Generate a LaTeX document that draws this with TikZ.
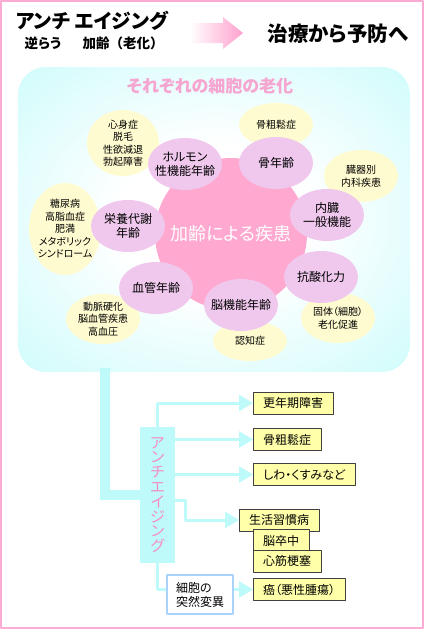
\documentclass[tikz,border=0pt]{standalone}
\usepackage{fontspec}
\setmainfont{Noto Sans CJK JP}[RawFeature=+palt]
\newfontfamily\monocjk{Noto Sans CJK JP}
\usetikzlibrary{shapes.geometric,arrows.meta,positioning}
\definecolor{framepink}{RGB}{250,172,212}
\definecolor{arrowpink}{RGB}{255,160,205}
\definecolor{boxcyan}{RGB}{190,250,250}
\definecolor{titlepink}{RGB}{245,165,208}
\definecolor{diseasepink}{RGB}{255,168,208}
\definecolor{agelav}{RGB}{240,200,238}
\definecolor{causeyellow}{RGB}{255,251,208}
\definecolor{illyellow}{RGB}{255,255,170}
\definecolor{aapink}{RGB}{245,140,200}
\definecolor{mutblue}{RGB}{170,210,250}
\pgfdeclareradialshading{cellglow}{\pgfpoint{0bp}{0bp}}{color(0bp)=(white); color(12bp)=(white); color(45bp)=(boxcyan); color(50bp)=(boxcyan)}
\tikzset{
  causetext/.style={align=center, inner sep=0, font=\fontsize{10}{12.5}\selectfont},
  agetext/.style={align=center, inner sep=0, font=\fontsize{12}{14}\selectfont},
  illbox/.style={draw=black!75, fill=illyellow, anchor=west, inner xsep=10, inner ysep=0, minimum height=22, font=\fontsize{12}{14}\selectfont},
  thinline/.style={draw=boxcyan, line width=3},
  thinarrow/.style={thinline, -{Triangle[length=14pt,width=16pt]}},
}
\begin{document}
\begin{tikzpicture}[x=1pt, y=-1pt, line join=round]
\useasboundingbox (0,0) rectangle (424,629);
\draw[framepink, line width=1.5] (1,1) rectangle (423,628);
% heading
\node[font=\bfseries\fontsize{19.8}{22}\selectfont] (anti) at (92,21) {アンチ エイジング};
\node[font=\bfseries\fontsize{13.5}{15}\selectfont] (gyaku) at (43,43) {逆らう};
\node[font=\monocjk\bfseries\fontsize{13.5}{15}\selectfont] (karei) at (123,43) {加齢（老化）};
\shade[left color=white, right color=arrowpink] (190,23) -- (223,23) -- (223,17) -- (243,33) -- (223,49) -- (223,43) -- (190,43) -- cycle;
\node[font=\bfseries\fontsize{20.5}{22}\selectfont] (yobou) at (338,34) {治療から予防へ};
% cell ageing panel
\shade[shading=cellglow, rounded corners=28] (18,67) rectangle (410,372);
\coordinate (bartop) at (105,368);
\node[font=\bfseries\fontsize{17}{19}\selectfont, text=titlepink] (celltitle) at (210,86) {それぞれの細胞の老化};
\foreach \px/\py/\rx/\ry/\txt [count=\i] in {
    123/143/36/33/{心身症\\脱毛\\性欲減退\\勃起障害},
    276/125/37/22/{骨粗鬆症},
    361/176/37/26/{臓器別\\内科疾患},
    65/229/36/46/{糖尿病\\高脂血症\\肥満\\メタボリック\\シンドローム},
    103/319/37/25/{動脈硬化\\脳血管疾患\\高血圧},
    250/341/37/20/{認知症},
    338/318/37/25/{固体（細胞）\\老化促進}}{
  \fill[causeyellow] (\px,\py) ellipse [x radius=\rx, y radius=\ry];
  \node[causetext] (cause\i) at (\px,\py) {\txt};
}
\node[circle, fill=diseasepink, minimum size=152, text=white, font=\fontsize{18}{20}\selectfont] (disease) at (231,234) {加齢による疾患};
\foreach \px/\py/\txt [count=\i] in {
    185/164/{ホルモン\\性機能年齢},
    276/163/{骨年齢},
    327/215/{内臓\\一般機能},
    321/277/{抗酸化力},
    241/305/{脳機能年齢},
    156/288/{血管年齢},
    128/226/{栄養代謝\\年齢}}{
  \fill[agelav] (\px,\py) ellipse [x radius=37, y radius=26];
  \node[agetext] (age\i) at (\px,\py) {\txt};
}
% anti-ageing branch
\node[fill=boxcyan, minimum width=35, minimum height=136, inner sep=0, text=aapink, align=center, font=\fontsize{15}{14.8}\selectfont] (aa) at (157.5,495) {ア\\ン\\チ\\エ\\イ\\ジ\\ン\\グ};
\draw[boxcyan, line width=10, line join=miter] (bartop) |- (aa.west);
\node[illbox] (kounen) at (253,403) {更年期障害};
\node[illbox] (kotsu) at (253,439.5) {骨粗鬆症};
\node[illbox] (shiwa) at (253,474.5) {しわ・くすみなど};
\node[illbox] (seikatsu) at (239,520) {生活習慣病};
\node[illbox] (sotchu) at (253,540.5) {脳卒中};
\node[illbox] (shinkin) at (253,561) {心筋梗塞};
\node[illbox] (gan) at (253,589.5) {癌（悪性腫瘍）};
\node[draw=mutblue, fill=white, line width=1.5, align=left, inner xsep=9, minimum height=39, font=\fontsize{12}{14}\selectfont] (mutate) at (200,594.5) {細胞の\\突然変異};
\draw[thinarrow] (aa.north) |- (kounen.west);
\draw[thinarrow] (aa.east |- kotsu.west) -- (kotsu.west);
\draw[thinarrow] (aa.east |- shiwa.west) -- (shiwa.west);
\draw[thinarrow] ([yshift=-5pt]aa.east) -- ++(10,0) |- (seikatsu.west);
\draw[thinline] (aa.south) |- (mutate.west |- gan.west);
\draw[thinarrow] (mutate.east |- gan.west) -- (gan.west);
\end{tikzpicture}
\end{document}
